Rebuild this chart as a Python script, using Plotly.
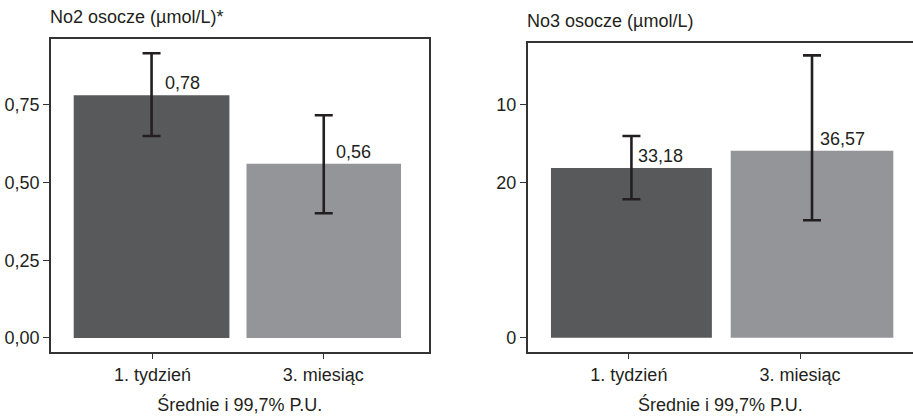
import plotly.graph_objects as go

categories = ["1. tydzień", "3. miesiąc"]

no2_means = [0.78, 0.56]
no2_upper = [0.915, 0.716]
no2_lower = [0.649, 0.401]
no2_labels = ["0,78", "0,56"]
no2_tickvals = [0.0, 0.25, 0.5, 0.75]
no2_ticktext = ["0,00", "0,25", "0,50", "0,75"]

no3_means = [33.18, 36.57]
no3_upper = [39.43, 55.2]
no3_lower = [27.06, 22.95]
no3_labels = ["33,18", "36,57"]
no3_tickvals = [0.0, 30.3, 45.5]
no3_ticktext = ["0", "20", "10"]

bar_colors = ["#58595b", "#939598"]
ink = "#231f20"
FONT = "Liberation Sans, Arial, sans-serif"
FS = 18

W, H = 913, 419


def fx(px):
    return px / W


def fy(py):
    return 1 - py / H


fig = go.Figure()


def add_panel(means, upper, lower, xa, ya, width, offset):
    fig.add_trace(go.Bar(
        x=categories, y=means, xaxis=xa, yaxis=ya,
        marker=dict(color=bar_colors, line=dict(width=0)),
        width=width, offset=offset,
        error_y=dict(type="data", symmetric=False,
                     array=[u - m for u, m in zip(upper, means)],
                     arrayminus=[m - l for m, l in zip(means, lower)],
                     color=ink, thickness=2.6, width=9),
        showlegend=False, hoverinfo="skip",
    ))


add_panel(no2_means, no2_upper, no2_lower, "x", "y", [0.912, 0.905], [-0.462, -0.45])
add_panel(no3_means, no3_upper, no3_lower, "x2", "y2", [0.94, 0.95], [-0.455, -0.405])

no2_x = [0.06, 0.06]
for i, c in enumerate(categories):
    fig.add_annotation(x=i + no2_x[i], y=no2_means[i], xref="x", yref="y",
                       text=no2_labels[i], showarrow=False, xanchor="left",
                       yanchor="bottom", yshift=0,
                       font=dict(family=FONT, size=FS, color=ink))
no3_x = [0.04, 1.105]
for i, c in enumerate(categories):
    fig.add_annotation(x=no3_x[i], y=no3_means[i], xref="x2", yref="y2",
                       text=no3_labels[i], showarrow=False, xanchor="left",
                       yanchor="bottom", yshift=0,
                       font=dict(family=FONT, size=FS, color=ink))

fig.add_annotation(x=fx(48), y=fy(17), xref="paper", yref="paper",
                   text="No2 osocze (µmol/L)*", showarrow=False,
                   xanchor="left", yanchor="middle",
                   font=dict(family=FONT, size=FS, color=ink))
fig.add_annotation(x=fx(525), y=fy(21), xref="paper", yref="paper",
                   text="No3 osocze (µmol/L)", showarrow=False,
                   xanchor="left", yanchor="middle",
                   font=dict(family=FONT, size=FS, color=ink))

axis_line = dict(showline=True, linecolor="#333333", linewidth=1.6,
                 ticks="outside", ticklen=6, tickwidth=1.2, tickcolor="#333333",
                 showgrid=False, zeroline=False, automargin=False,
                 tickfont=dict(family=FONT, size=FS, color=ink))

fig.update_layout(
    width=W, height=H,
    margin=dict(l=0, r=0, t=0, b=0, autoexpand=False),
    paper_bgcolor="white", plot_bgcolor="white",
    xaxis=dict(domain=[fx(51), fx(428.5)], range=[-0.595, 1.616],
               mirror=True, type="category",
               title=dict(text="Średnie i 99,7% P.U.", standoff=14,
                          font=dict(family=FONT, size=FS, color=ink)),
               anchor="y", **axis_line),
    yaxis=dict(domain=[fy(351.5), fy(39)],
               range=[-0.0435, 0.961], mirror=True,
               tickvals=no2_tickvals, ticktext=no2_ticktext,
               anchor="x", **axis_line),
    xaxis2=dict(domain=[fx(527.7), 1.0], range=[-0.591, 1.66],
                mirror=True, type="category",
                title=dict(text="Średnie i 99,7% P.U.", standoff=14,
                           font=dict(family=FONT, size=FS, color=ink)),
                anchor="y2", **axis_line),
    yaxis2=dict(domain=[fy(351.5), fy(42.7)],
                range=[-2.7, 57.67], mirror=False,
                tickvals=no3_tickvals, ticktext=no3_ticktext,
                anchor="x2", **axis_line),
)

fig.write_html("out.html", config={"displayModeBar": False},
               post_script="document.body.style.margin='0';")
